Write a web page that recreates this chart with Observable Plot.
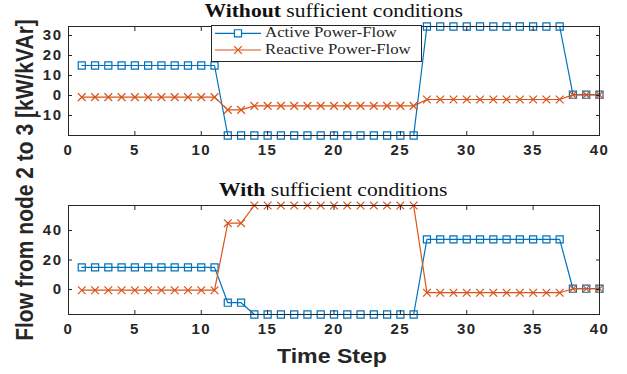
<!DOCTYPE html>
<html><head><meta charset="utf-8">
<script src="https://cdn.jsdelivr.net/npm/d3@7"></script>
<script src="https://cdn.jsdelivr.net/npm/@observablehq/plot@0.6"></script>
<style>
html,body{margin:0;padding:0;background:#fff;}
#wrap{position:relative;width:627px;height:374px;overflow:hidden;background:#fff;}
.abs{position:absolute;}
.title{font-family:"Liberation Serif",serif;font-size:18px;line-height:1;color:#111;text-align:center;white-space:nowrap;}
.title span{display:inline-block;transform:scaleX(1.2);transform-origin:center;}
.leg{font-family:"Liberation Serif",serif;font-size:15px;line-height:1;color:#262626;white-space:nowrap;transform:scaleX(1.12);transform-origin:left;}
.axlab{font-family:"Liberation Sans",Arial,sans-serif;font-weight:bold;font-size:21px;color:#262626;white-space:nowrap;}
</style></head><body><div id="wrap"></div>
<script>
// ---- data ----
const steps = [1,2,3,4,5,6,7,8,9,10,11,12,13,14,15,16,17,18,19,20,21,22,23,24,25,26,27,28,29,30,31,32,33,34,35,36,37,38,39,40];
const seriesNames = ["Active Power-Flow", "Reactive Power-Flow"];
const seriesColors = ["#0072BD", "#D95319"];
const seriesSymbols = ["square", "times"];
const xTicks = [0,5,10,15,20,25,30,35,40];

// Without sufficient conditions
const topActive = [15,15,15,15,15,15,15,15,15,15,15,-20,-20,-20,-20,-20,-20,-20,-20,-20,-20,-20,-20,-20,-20,-20,34.5,34.5,34.5,34.5,34.5,34.5,34.5,34.5,34.5,34.5,34.5,0.4,0.4,0.4];
const topReactive = [-0.8,-0.8,-0.8,-0.8,-0.8,-0.8,-0.8,-0.8,-0.8,-0.8,-0.8,-7.2,-7.2,-5.2,-5.2,-5.2,-5.2,-5.2,-5.2,-5.2,-5.2,-5.2,-5.2,-5.2,-5.2,-5.2,-2,-2,-2,-2,-2,-2,-2,-2,-2,-2,-2,0.3,0.3,0.3];
const topYDomain = [-20, 34.5];
const topYTicks = [-10,0,10,20,30];

// With sufficient conditions
const botActive = [15,15,15,15,15,15,15,15,15,15,15,-9,-9,-17,-17,-17,-17,-17,-17,-17,-17,-17,-17,-17,-17,-17,34,34,34,34,34,34,34,34,34,34,34,0.5,0.5,0.5];
const botReactive = [-0.5,-0.5,-0.5,-0.5,-0.5,-0.5,-0.5,-0.5,-0.5,-0.5,-0.5,45,45,57,57,57,57,57,57,57,57,57,57,57,57,57,-2.2,-2.2,-2.2,-2.2,-2.2,-2.2,-2.2,-2.2,-2.2,-2.2,-2.2,0.5,0.5,0.5];
const botYDomain = [-17, 57];
const botYTicks = [0,20,40];

const ink = "#262626";

function panel(series, yDomain, yTicks, height, mt, mb) {
  const marks = [];
  series.forEach((vals, s) => {
    const data = steps.map((t, i) => ({t, v: vals[i]}));
    marks.push(Plot.line(data, {x: "t", y: "v", stroke: seriesColors[s], strokeWidth: 1.2}));
    marks.push(Plot.dot(data, {x: "t", y: "v", symbol: seriesSymbols[s], r: s === 0 ? 4 : 3.6, stroke: seriesColors[s], fill: "none", strokeWidth: 1.2}));
  });
  const none = () => "";
  const fmt = d => d < 0 ? "-" + Math.abs(d) : String(d);
  marks.push(
    Plot.frame({stroke: ink, strokeWidth: 1}),
    Plot.axisX({anchor: "bottom", ticks: xTicks, tickSize: 0, tickPadding: 9, label: null, fill: ink, tickFormat: fmt}),
    Plot.axisX({anchor: "bottom", ticks: xTicks, tickSize: 4, dy: -4, tickFormat: none, label: null, stroke: ink}),
    Plot.axisX({anchor: "top", ticks: xTicks, tickSize: 4, dy: 4, tickFormat: none, label: null, stroke: ink}),
    Plot.axisY({anchor: "left", ticks: yTicks, tickSize: 0, tickPadding: 6, label: null, fill: ink, tickFormat: fmt}),
    Plot.axisY({anchor: "left", ticks: yTicks, tickSize: 4, dx: 4, tickFormat: none, label: null, stroke: ink}),
    Plot.axisY({anchor: "right", ticks: yTicks, tickSize: 4, dx: -4, tickFormat: none, label: null, stroke: ink})
  );
  return Plot.plot({
    width: 627, height,
    marginLeft: 68, marginRight: 28, marginTop: mt, marginBottom: mb,
    x: {domain: [0, 40]},
    y: {domain: yDomain},
    style: {fontFamily: "'Liberation Sans', Arial, sans-serif", fontWeight: "bold", fontSize: "15px", letterSpacing: "1.5px", color: ink, background: "transparent", overflow: "visible"},
    marks
  });
}

const wrap = document.getElementById("wrap");
function place(el, left, top) { el.style.position = "absolute"; el.style.left = left + "px"; el.style.top = top + "px"; wrap.appendChild(el); return el; }

place(panel([topActive, topReactive], topYDomain, topYTicks, 170, 26, 35), 0, 0);
place(panel([botActive, botReactive], botYDomain, botYTicks, 204, 35, 60), 0, 170);

// titles
function title(boldPart, rest, top) {
  const d = document.createElement("div");
  d.className = "title";
  d.style.width = "531px";
  d.innerHTML = `<span><b>${boldPart}</b> ${rest}</span>`;
  return place(d, 68, top);
}
title("Without", "sufficient conditions", 2);
title("With", "sufficient conditions", 181);

// legend
const leg = document.createElement("div");
leg.style.cssText = "width:209px;height:35px;border:1px solid " + ink + ";background:#fff;";
place(leg, 211, 25);
const sw = d3.create("svg").attr("width", 48).attr("height", 36);
seriesNames.forEach((name, s) => {
  const y = s === 0 ? 8.3 : 25;
  sw.append("line").attr("x1", 0).attr("x2", 46).attr("y1", y).attr("y2", y).attr("stroke", seriesColors[s]).attr("stroke-width", 1.2);
  const sym = s === 0 ? d3.symbolSquare : d3.symbolTimes;
  sw.append("path").attr("d", d3.symbol(sym, (s === 0 ? 4 : 3.6) ** 2 * Math.PI)()).attr("transform", `translate(23,${y})`)
    .attr("fill", s === 0 ? "#fff" : "none").attr("stroke", seriesColors[s]).attr("stroke-width", 1.2);
  const t = document.createElement("div");
  t.className = "leg";
  t.textContent = name;
  place(t, 265, s === 0 ? 25.1 : 42.4);
});
place(sw.node(), 215, 25);

// axis labels
const xl = document.createElement("div");
xl.className = "axlab";
xl.style.cssText += "width:200px;text-align:center;line-height:1;transform:scaleX(1.1);";
xl.textContent = "Time Step";
place(xl, 232, 345.2);

const yl = document.createElement("div");
yl.className = "axlab";
yl.style.cssText += "width:400px;height:24px;line-height:24px;text-align:center;transform:rotate(-90deg) scale(1,1.15);transform-origin:center;";
yl.textContent = "Flow from node 2 to 3 [kW/kVAr]";
place(yl, 24.5 - 200, 180 - 12);
</script>
</body></html>
